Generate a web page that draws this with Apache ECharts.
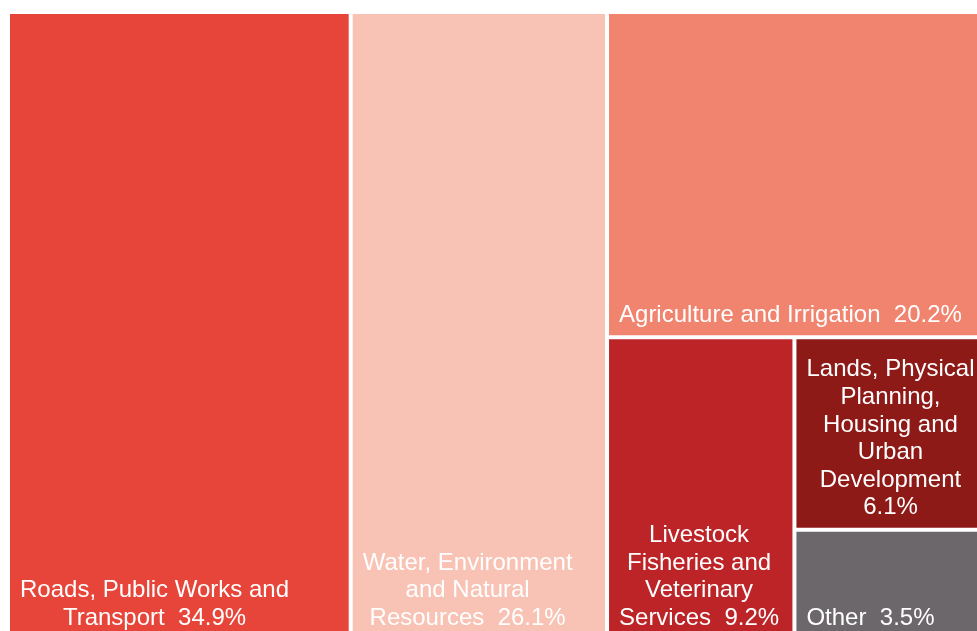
<!DOCTYPE html>
<html><head><meta charset="utf-8">
<script src="https://cdn.jsdelivr.net/npm/echarts@6/dist/echarts.min.js"></script>
<style>html,body{margin:0;padding:0;background:#fff}#c{width:977px;height:631px}</style>
</head><body><div id="c"></div>
<script>
// Category names (with the label line breaks used in the picture)
const categories = [
  'Roads, Public Works and\nTransport',
  'Water, Environment\nand Natural\nResources',
  'Agriculture and Irrigation',
  'Livestock\nFisheries and\nVeterinary\nServices',
  'Lands, Physical\nPlanning,\nHousing and\nUrban\nDevelopment',
  'Other'
];
// Share of budget, %
const values = [34.9, 26.1, 20.2, 9.2, 6.1, 3.5];
// What separates the name from the percentage in each label
const valueSeparators = ['  ', '  ', '  ', '  ', '\n', '  '];
const colors = ['#E8453A', '#F8C2B5', '#F0846F', '#BC2428', '#8E1A17', '#6C676A'];

const FONT_SIZE = 24, LINE_H = 27.6;
const FONT_FAMILY = '"Liberation Sans", Arial, sans-serif';
const ctx = document.createElement('canvas').getContext('2d');
ctx.font = FONT_SIZE + 'px ' + FONT_FAMILY;
function labelText(i) { return categories[i] + valueSeparators[i] + values[i].toFixed(1) + '%'; }
function blockWidth(t) { return Math.max.apply(null, t.split('\n').map(l => ctx.measureText(l).width)); }

function leaf(i) {
  const text = labelText(i);
  return {
    name: categories[i].replace(/\n/g, ' '),
    value: values[i],
    itemStyle: { color: colors[i] },
    label: { formatter: text, offset: [4 + blockWidth(text) / 2, 0] }
  };
}
function sumFrom(i) { let s = 0; for (let k = i; k < values.length; k++) s += values[k]; return s; }
function nest(i) {
  if (i === values.length - 1) return [leaf(i)];
  return [leaf(i), { name: '', value: sumFrom(i + 1), children: nest(i + 1) }];
}

const chart = echarts.init(document.getElementById('c'), null, { renderer: 'canvas' });
chart.setOption({
  animation: false,
  series: [{
    type: 'treemap',
    left: 10, top: 14, width: 978, height: 624,
    roam: false, nodeClick: false, sort: false, squareRatio: 1,
    breadcrumb: { show: false },
    itemStyle: { borderWidth: 0, gapWidth: 4, borderColor: '#fff' },
    upperLabel: { show: false },
    label: {
      show: true, position: 'insideBottomLeft', distance: 6,
      align: 'center', verticalAlign: 'bottom', padding: 0, overflow: 'none',
      color: '#fff', fontSize: FONT_SIZE, fontFamily: FONT_FAMILY, lineHeight: LINE_H
    },
    data: nest(0)
  }]
});
</script>
</body></html>
